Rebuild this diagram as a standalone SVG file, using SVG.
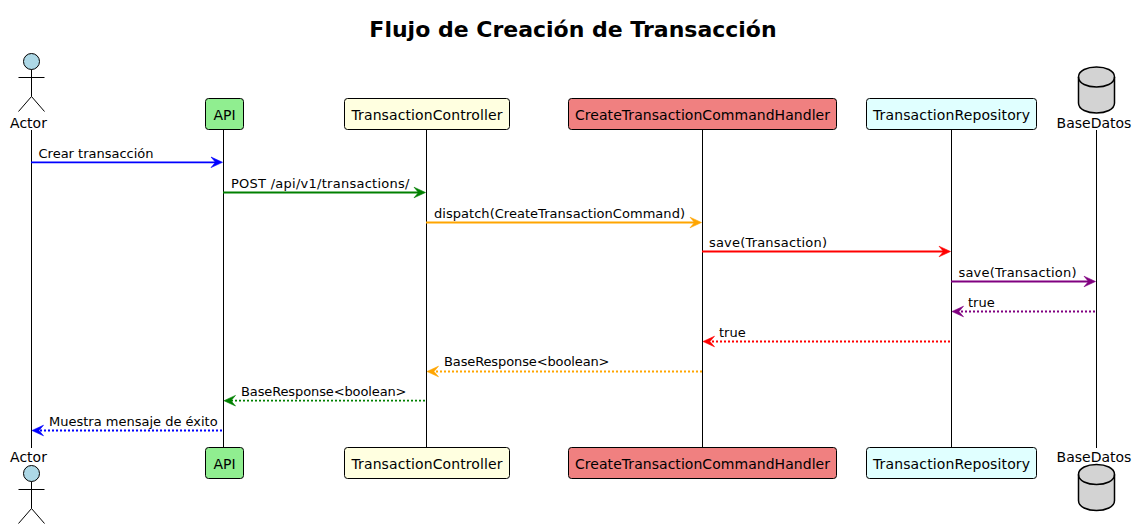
<svg xmlns="http://www.w3.org/2000/svg" width="1136" height="529" viewBox="0 0 1136 529">
<style>
text{font-family:"DejaVu Sans",Verdana,sans-serif;fill:#000}
.t{font-size:22px;font-weight:bold;text-anchor:middle}
.n{font-size:14px;text-anchor:middle}
.m{font-size:13px}
.box{stroke:#000;stroke-width:1;}
.life{stroke:#000;stroke-width:1;fill:none}
.msg{stroke-width:1.800;fill:none}
.d{stroke-dasharray:2 2}
.stick{stroke:#000;stroke-width:1;fill:none}
.head{stroke-width:.6}
</style>
<defs>
<g id="actor">
<circle cx="0" cy="8" r="8" fill="#ADD8E6" stroke="#000" stroke-width="1"/>
<path class="stick" d="M0 16V43M-13 24H13M0 43L-13 58M0 43L13 58"/>
</g>
<g id="db">
<path d="M-18 10C-18 -3.300 18 -3.300 18 10V36C18 49.300 -18 49.300 -18 36Z" fill="#D3D3D3" stroke="#000" stroke-width="1.500"/>
<path d="M-18 10C-18 23.300 18 23.300 18 10" fill="none" stroke="#000" stroke-width="1.500"/>
</g>
</defs>
<text class="t" x="573" y="37">Flujo de Creación de Transacción</text>
<g id="lifelines">
<path class="life" d="M31.500 130V448M223.500 130V448M426.500 130V448M702.500 130V448M951.500 130V448M1096.500 130V448"/>
</g>
<g id="connectors">
<path class="msg" stroke="#00f" d="M31 162.300H218"/><path fill="#00f" stroke="#00f" class="head" d="M222.500 162.300L211 157L215.500 162.300L211 167.600Z"/>
<text class="m" x="38.500" y="158">Crear transacción</text>
<path class="msg" stroke="#008000" d="M223 192.500H421"/><path fill="#008000" stroke="#008000" class="head" d="M425.500 192.500L414 187.200L418.500 192.500L414 197.800Z"/>
<text class="m" x="231" y="188" textLength="178.500">POST /api/v1/transactions/</text>
<path class="msg" stroke="#FFA500" d="M426 222.500H697"/><path fill="#FFA500" stroke="#FFA500" class="head" d="M701.500 222.500L690 217.200L694.500 222.500L690 227.800Z"/>
<text class="m" x="434" y="218" textLength="251">dispatch(CreateTransactionCommand)</text>
<path class="msg" stroke="#f00" d="M702 251.500H946"/><path fill="#f00" stroke="#f00" class="head" d="M950.500 251.500L939 246.200L943.500 251.500L939 256.800Z"/>
<text class="m" x="709" y="247" textLength="118">save(Transaction)</text>
<path class="msg" stroke="#800080" d="M951 281.500H1091"/><path fill="#800080" stroke="#800080" class="head" d="M1095.500 281.500L1084 276.200L1088.500 281.500L1084 286.800Z"/>
<text class="m" x="958.500" y="277" textLength="118">save(Transaction)</text>
<path class="msg d" stroke="#800080" d="M1095 311.500H956"/><path fill="#800080" stroke="#800080" class="head" d="M952 311.500L963.500 306.200L959 311.500L963.500 316.800Z"/>
<text class="m" x="968" y="307">true</text>
<path class="msg d" stroke="#f00" d="M950 341.500H707"/><path fill="#f00" stroke="#f00" class="head" d="M703 341.500L714.500 336.200L710 341.500L714.500 346.800Z"/>
<text class="m" x="719" y="337">true</text>
<path class="msg d" stroke="#FFA500" d="M702 371.500H431"/><path fill="#FFA500" stroke="#FFA500" class="head" d="M427 371.500L438.500 366.200L434 371.500L438.500 376.800Z"/>
<text class="m" x="444" y="366" textLength="165.500">BaseResponse&lt;boolean&gt;</text>
<path class="msg d" stroke="#008000" d="M425 400.700H228"/><path fill="#008000" stroke="#008000" class="head" d="M224 400.700L235.500 395.400L231 400.700L235.500 406Z"/>
<text class="m" x="241" y="396" textLength="165.500">BaseResponse&lt;boolean&gt;</text>
<path class="msg d" stroke="#00f" d="M222 430.500H36"/><path fill="#00f" stroke="#00f" class="head" d="M32 430.500L43.500 425.200L39 430.500L43.500 435.800Z"/>
<text class="m" x="49" y="426">Muestra mensaje de éxito</text>
</g>
<g id="actor-top"><use href="#actor" x="31.500" y="53.500"/><text class="n" x="28.500" y="128">Actor</text></g>
<g id="api-top"><rect class="box" x="205.500" y="98.500" width="38" height="31" rx="3" fill="#90EE90"/><text class="n" x="224.500" y="120">API</text></g>
<g id="controller-top"><rect class="box" x="344.500" y="98.500" width="165" height="31" rx="3" fill="#FFFFE0"/><text class="n" x="427" y="120" textLength="151">TransactionController</text></g>
<g id="handler-top"><rect class="box" x="568.500" y="98.500" width="268" height="31" rx="3" fill="#F08080"/><text class="n" x="702.500" y="120" textLength="255">CreateTransactionCommandHandler</text></g>
<g id="repo-top"><rect class="box" x="866.500" y="98.500" width="170" height="31" rx="3" fill="#E0FFFF"/><text class="n" x="951.500" y="120" textLength="157">TransactionRepository</text></g>
<g id="db-top"><use href="#db" x="1096.500" y="67"/><text class="n" x="1094" y="128">BaseDatos</text></g>
<g id="actor-bottom"><text class="n" x="28.500" y="462">Actor</text><use href="#actor" x="31.500" y="465.500"/></g>
<g id="api-bottom"><rect class="box" x="205.500" y="447.500" width="38" height="31" rx="3" fill="#90EE90"/><text class="n" x="224.500" y="469">API</text></g>
<g id="controller-bottom"><rect class="box" x="344.500" y="447.500" width="165" height="31" rx="3" fill="#FFFFE0"/><text class="n" x="427" y="469" textLength="151">TransactionController</text></g>
<g id="handler-bottom"><rect class="box" x="568.500" y="447.500" width="268" height="31" rx="3" fill="#F08080"/><text class="n" x="702.500" y="469" textLength="255">CreateTransactionCommandHandler</text></g>
<g id="repo-bottom"><rect class="box" x="866.500" y="447.500" width="170" height="31" rx="3" fill="#E0FFFF"/><text class="n" x="951.500" y="469" textLength="157">TransactionRepository</text></g>
<g id="db-bottom"><text class="n" x="1094" y="462">BaseDatos</text><use href="#db" x="1096.500" y="464.500"/></g>
</svg>
